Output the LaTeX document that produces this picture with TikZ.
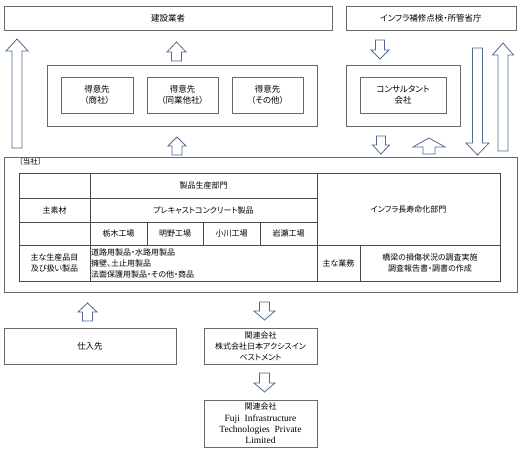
\documentclass[tikz,border=0pt]{standalone}
\usepackage{fontspec}
\setmainfont{Noto Sans CJK JP}[RawFeature=+palt]
\newfontfamily\latinserif{Liberation Serif}
\definecolor{boxgray}{HTML}{6A6A6A}
\definecolor{linegray}{HTML}{4A4A4A}
\definecolor{arrowblue}{HTML}{4E6A92}
\newcommand\myuparrow[6]{% cx, top(tip), bottom, head half width, shaft half width, head length
  \draw[barrow] (#1,#2) -- (#1+#4,#2+#6) -- (#1+#5,#2+#6) -- (#1+#5,#3) -- (#1-#5,#3) -- (#1-#5,#2+#6) -- (#1-#4,#2+#6) -- cycle;}
\newcommand\mydownarrow[6]{% cx, top, bottom(tip), head half width, shaft half width, head length
  \draw[barrow] (#1,#3) -- (#1+#4,#3-#6) -- (#1+#5,#3-#6) -- (#1+#5,#2) -- (#1-#5,#2) -- (#1-#5,#3-#6) -- (#1-#4,#3-#6) -- cycle;}
\begin{document}
\begin{tikzpicture}[x=1pt,y=-1pt,
  box/.style={draw=boxgray, line width=0.8pt, fill=white, inner sep=0pt, align=center,
    font=\fontsize{8.5}{11.5}\selectfont},
  celltext/.style={inner sep=0pt, align=center, font=\fontsize{8}{11}\selectfont},
  tline/.style={draw=linegray, line width=0.7pt},
  barrow/.style={draw=arrowblue, line width=0.8pt, fill=white, line join=miter}]
\useasboundingbox (0,0) rectangle (523,453);

% top boxes
\node[box, minimum width=328pt, minimum height=24pt] (kensetsu) at (168,18) {建設業者};
\node[box, minimum width=170pt, minimum height=24pt] (infra) at (431,18) {インフラ補修点検・所管省庁};

% customers
\node[box, minimum width=270pt, minimum height=61pt] (custouter) at (182,95.5) {};
\node[box, minimum width=72pt, minimum height=36pt] (cust1) at (97,95) {得意先\\（商社）};
\node[box, minimum width=71pt, minimum height=36pt] (cust2) at (182.5,95) {得意先\\（同業他社）};
\node[box, minimum width=71pt, minimum height=36pt] (cust3) at (267.5,95) {得意先\\（その他）};

% consultant
\node[box, minimum width=114pt, minimum height=61pt] (consouter) at (403,95.5) {};
\node[box, minimum width=86pt, minimum height=36pt] (cons) at (403,95) {コンサルタント\\会社};

% arrows upper area
\myuparrow{17}{39}{148}{11}{5}{12}
\myuparrow{176.5}{42}{61}{9.5}{5}{10}
\myuparrow{177}{137}{155}{9}{5}{9}
\mydownarrow{380}{40}{59}{9}{4.5}{9}
\mydownarrow{381}{136}{154}{8.5}{4.5}{9}
\myuparrow{429}{138}{154}{16}{6}{9}
\mydownarrow{477.5}{48}{155}{11.5}{5}{12}
\myuparrow{503}{43}{151}{10.5}{5}{12}

% company box
\node[box, minimum width=513pt, minimum height=135pt] (tosha) at (260.5,224.5) {};
\node[celltext, anchor=west, font=\fontsize{7.5}{9}\selectfont] (toshalabel) at (19,161.5) {〔当社〕};

% table
\draw[tline] (19,173) rectangle (500,281);
\draw[tline] (19,198) -- (317,198);
\draw[tline] (19,222) -- (317,222);
\draw[tline] (19,245) -- (500,245);
\draw[tline] (90,173) -- (90,281);
\draw[tline] (317,173) -- (317,281);
\draw[tline] (147,222) -- (147,245);
\draw[tline] (203,222) -- (203,245);
\draw[tline] (260,222) -- (260,245);
\draw[tline] (360,245) -- (360,281);

\node[celltext] (seihin) at (203.5,185.5) {製品生産部門};
\node[celltext] (shusozai) at (54.5,210) {主素材};
\node[celltext] (precast) at (203.5,210) {プレキャストコンクリート製品};
\node[celltext] (f1) at (118.5,233.5) {栃木工場};
\node[celltext] (f2) at (175,233.5) {明野工場};
\node[celltext] (f3) at (231.5,233.5) {小川工場};
\node[celltext] (f4) at (288.5,233.5) {岩瀬工場};
\node[celltext] (longlife) at (408.5,209) {インフラ長寿命化部門};
\node[celltext] (shuyohin) at (54.5,263) {主な生産品目\\及び扱い製品};
\node[celltext, anchor=west, align=left] (products) at (91,263) {道路用製品・水路用製品\\擁壁、土止用製品\\法面保護用製品・その他・商品};
\node[celltext] (gyomu) at (338.5,263) {主な業務};
\node[celltext] (gyomutext) at (430,263) {橋梁の損傷状況の調査実施\\調査報告書・調書の作成};

% bottom area
\myuparrow{87.5}{303}{321}{9.5}{5}{9}
\mydownarrow{264.5}{302}{320}{10.5}{5}{9}
\node[box, minimum width=172pt, minimum height=36pt] (shiire) at (90,346) {仕入先};
\node[box, minimum width=113pt, minimum height=36pt, font=\fontsize{8}{11}\selectfont] (kanren1) at (260.5,346) {関連会社\\株式会社日本アクシスイン\\ベストメント};
\mydownarrow{264.5}{373}{392}{10.5}{5}{9}
\node[box, minimum width=113pt, minimum height=47pt, font=\fontsize{8}{11.3}\selectfont] (kanren2) at (260.5,423.5) {関連会社\\{\latinserif\fontsize{9.5}{11.3}\selectfont Fuji\ \ Infrastructure}\\{\latinserif\fontsize{9.5}{11.3}\selectfont Technologies\ \ Private}\\{\latinserif\fontsize{9.5}{11.3}\selectfont Limited}};
\end{tikzpicture}
\end{document}
